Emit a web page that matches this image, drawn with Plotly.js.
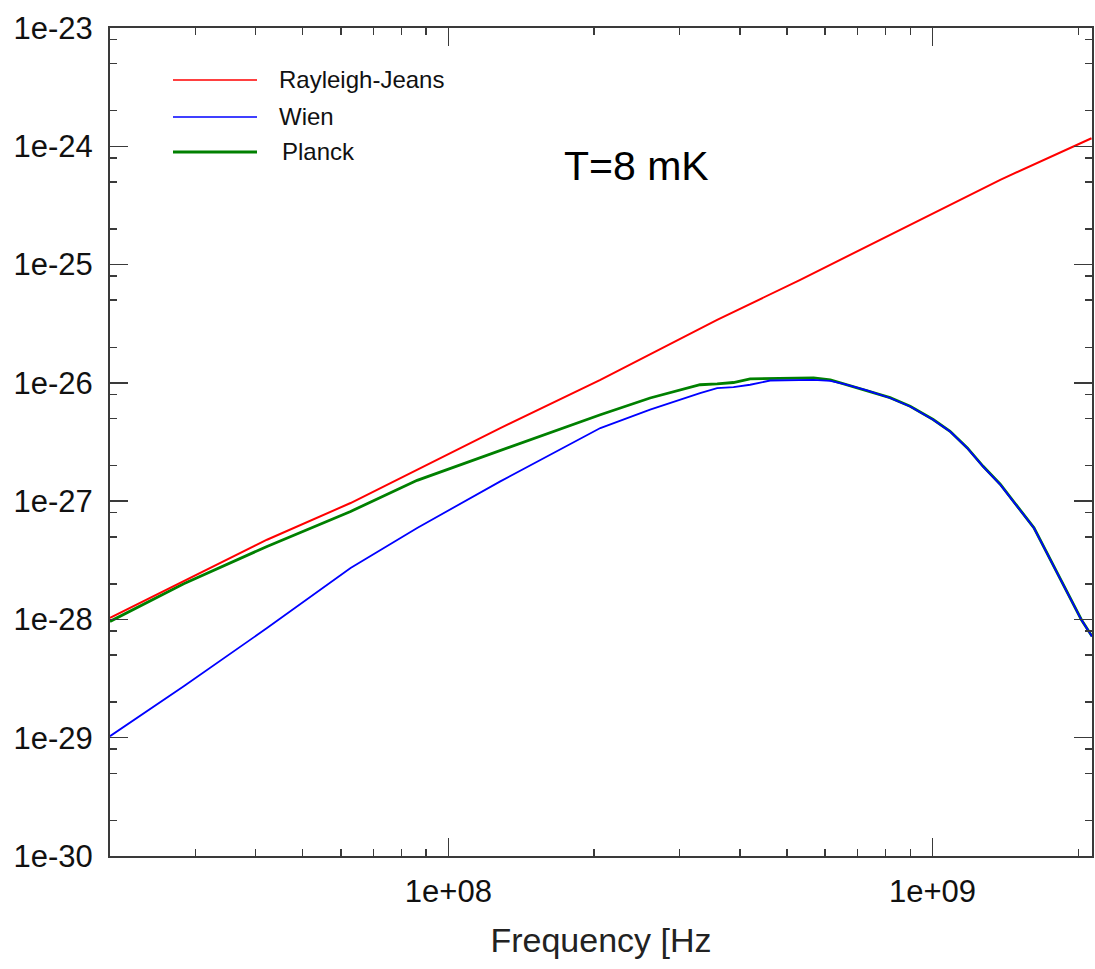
<!DOCTYPE html>
<html>
<head>
<meta charset="utf-8">
<script src="https://cdn.plot.ly/plotly-3.0.1.min.js"></script>
<style>html,body{margin:0;padding:0;background:#fff;}#chart{width:1095px;height:969px;}</style>
</head>
<body>
<div id="chart"></div>
<script>
// Frequencies [Hz] and spectral values
const freqRJ = [2.0e7, 2.84e7, 4.22e7, 6.28e7, 8.62e7, 1.28e8, 2.06e8, 3.31e8, 3.59e8, 5.33e8, 8.57e8, 1.38e9, 2.13e9];
const valRJ  = [1.03e-28, 2.12e-28, 4.72e-28, 9.64e-28, 1.84e-27, 4.15e-27, 1.06e-26, 2.85e-26, 3.41e-26, 7.43e-26, 1.97e-25, 5.21e-25, 1.17e-24];

const freqWien = [2.0e7, 2.84e7, 4.22e7, 6.28e7, 8.62e7, 1.28e8, 2.06e8, 2.61e8, 3.31e8, 3.59e8, 3.88e8, 4.2e8, 4.62e8, 5.2e8, 5.68e8, 6.15e8, 6.55e8, 7.32e8, 8.17e8, 8.99e8, 1.003e9, 1.087e9, 1.14e9, 1.18e9, 1.272e9, 1.38e9, 1.62e9, 1.75e9, 1.89e9, 2.03e9, 2.135e9];
const valWien  = [1.03e-29, 2.72e-29, 8.45e-29, 2.72e-28, 5.93e-28, 1.47e-27, 4.15e-27, 5.93e-27, 8.20e-27, 9.03e-27, 9.2e-27, 9.64e-27, 1.047e-26, 1.06e-26, 1.06e-26, 1.04e-26, 9.82e-27, 8.63e-27, 7.45e-27, 6.31e-27, 4.88e-27, 3.88e-27, 3.20e-27, 2.81e-27, 1.96e-27, 1.38e-27, 5.93e-28, 3.20e-28, 1.78e-28, 9.93e-29, 7.18e-29];

const freqPlanck = [2.0e7, 2.84e7, 4.22e7, 6.28e7, 8.62e7, 1.28e8, 2.06e8, 2.61e8, 3.31e8, 3.59e8, 3.88e8, 4.2e8, 5.0e8, 5.68e8, 6.15e8, 6.55e8, 7.32e8, 8.17e8, 8.99e8, 1.003e9, 1.087e9, 1.18e9, 1.272e9, 1.38e9, 1.62e9, 1.75e9, 1.89e9, 2.03e9, 2.135e9];
const valPlanck  = [9.62e-29, 2.00e-28, 4.14e-28, 8.18e-28, 1.50e-27, 2.68e-27, 5.37e-27, 7.45e-27, 9.64e-27, 9.8e-27, 1.007e-26, 1.08e-26, 1.10e-26, 1.10e-26, 1.06e-26, 9.82e-27, 8.7e-27, 7.5e-27, 6.35e-27, 4.9e-27, 3.9e-27, 2.82e-27, 1.97e-27, 1.39e-27, 5.95e-28, 3.21e-28, 1.79e-28, 9.95e-29, 7.2e-29];

const seriesNames = ['Rayleigh-Jeans', 'Wien', 'Planck'];
const yTickVals = [1e-30, 1e-29, 1e-28, 1e-27, 1e-26, 1e-25, 1e-24, 1e-23];
const yTickText = ['1e-30', '1e-29', '1e-28', '1e-27', '1e-26', '1e-25', '1e-24', '1e-23'];
const xTickVals = [1e8, 1e9];
const xTickText = ['1e+08', '1e+09'];
const xMinorVals = [3e7, 4e7, 5e7, 6e7, 7e7, 8e7, 9e7, 2e8, 3e8, 4e8, 5e8, 6e8, 7e8, 8e8, 9e8, 2e9];
const yMinorMant = [2, 5, 8];
const xTitle = 'Frequency [Hz';
const tempLabel = 'T=8 mK';

const yMinorVals = [];
for (let d = -30; d < -23; d++) yMinorMant.forEach(m => yMinorVals.push(m * Math.pow(10, d)));

const colors = {rj: '#ff0000', wien: '#0000ff', planck: '#008000'};
const FONT = 'Arial, "Liberation Sans", sans-serif';

const traces = [
  {x: freqPlanck, y: valPlanck, name: seriesNames[2], mode: 'lines', line: {color: colors.planck, width: 2.8}},
  {x: freqRJ, y: valRJ, name: seriesNames[0], mode: 'lines', line: {color: colors.rj, width: 2}},
  {x: freqWien, y: valWien, name: seriesNames[1], mode: 'lines', line: {color: colors.wien, width: 1.8}}
];

// plot area in pixels: left 110, right 1092, top 28, bottom 856
const L = 110, R = 1092, T = 28, B = 856;
const px = v => (v - L) / (R - L);
const py = v => (B - v) / (B - T);

const legendItems = [
  {name: seriesNames[0], color: colors.rj, width: 1.6, y: 80, tx: 277},
  {name: seriesNames[1], color: colors.wien, width: 1.6, y: 117, tx: 277},
  {name: seriesNames[2], color: colors.planck, width: 3, y: 152, tx: 280}
];

const shapes = legendItems.map(it => ({
  type: 'line', xref: 'paper', yref: 'paper',
  x0: px(173), x1: px(257), y0: py(it.y), y1: py(it.y),
  line: {color: it.color, width: it.width}
}));

const annotations = legendItems.map(it => ({
  xref: 'paper', yref: 'paper', x: px(it.tx), y: py(it.y - 1),
  xanchor: 'left', yanchor: 'middle', showarrow: false,
  text: it.name, font: {family: FONT, size: 24, color: '#111'}
}));
annotations.push({
  xref: 'paper', yref: 'paper', x: px(636), y: py(166),
  xanchor: 'center', yanchor: 'middle', showarrow: false,
  text: tempLabel, font: {family: FONT, size: 41, color: '#000'}
});

const axisCommon = {
  type: 'log', showgrid: false, zeroline: false,
  showline: true, linecolor: '#3a3a3a', linewidth: 2,
  mirror: 'allticks', ticks: 'inside', ticklen: 18, tickwidth: 1.5, tickcolor: '#3a3a3a',
  tickmode: 'array', tickfont: {family: FONT, size: 31, color: '#111'}
};

const layout = {
  width: 1095, height: 969,
  margin: {l: L, r: 1095 - R, t: T, b: 969 - B, pad: 0},
  paper_bgcolor: '#fff', plot_bgcolor: '#fff',
  showlegend: false,
  xaxis: Object.assign({}, axisCommon, {
    range: [Math.log10(2e7), Math.log10(2.135e9)],
    tickvals: xTickVals, ticktext: xTickText,
    ticklabelstandoff: 7,
    minor: {tickmode: 'array', tickvals: xMinorVals, ticks: 'inside', ticklen: 7, tickwidth: 1.5, tickcolor: '#3a3a3a', showgrid: false},
    title: {text: xTitle, font: {family: FONT, size: 34, color: '#222'}, standoff: 20}
  }),
  yaxis: Object.assign({}, axisCommon, {
    range: [-30, -23],
    tickvals: yTickVals, ticktext: yTickText,
    ticklabelstandoff: 9,
    minor: {tickmode: 'array', tickvals: yMinorVals, ticks: 'inside', ticklen: 7, tickwidth: 1.5, tickcolor: '#3a3a3a', showgrid: false}
  }),
  shapes: shapes,
  annotations: annotations
};

Plotly.newPlot('chart', traces, layout, {displayModeBar: false, staticPlot: true});
</script>
</body>
</html>
